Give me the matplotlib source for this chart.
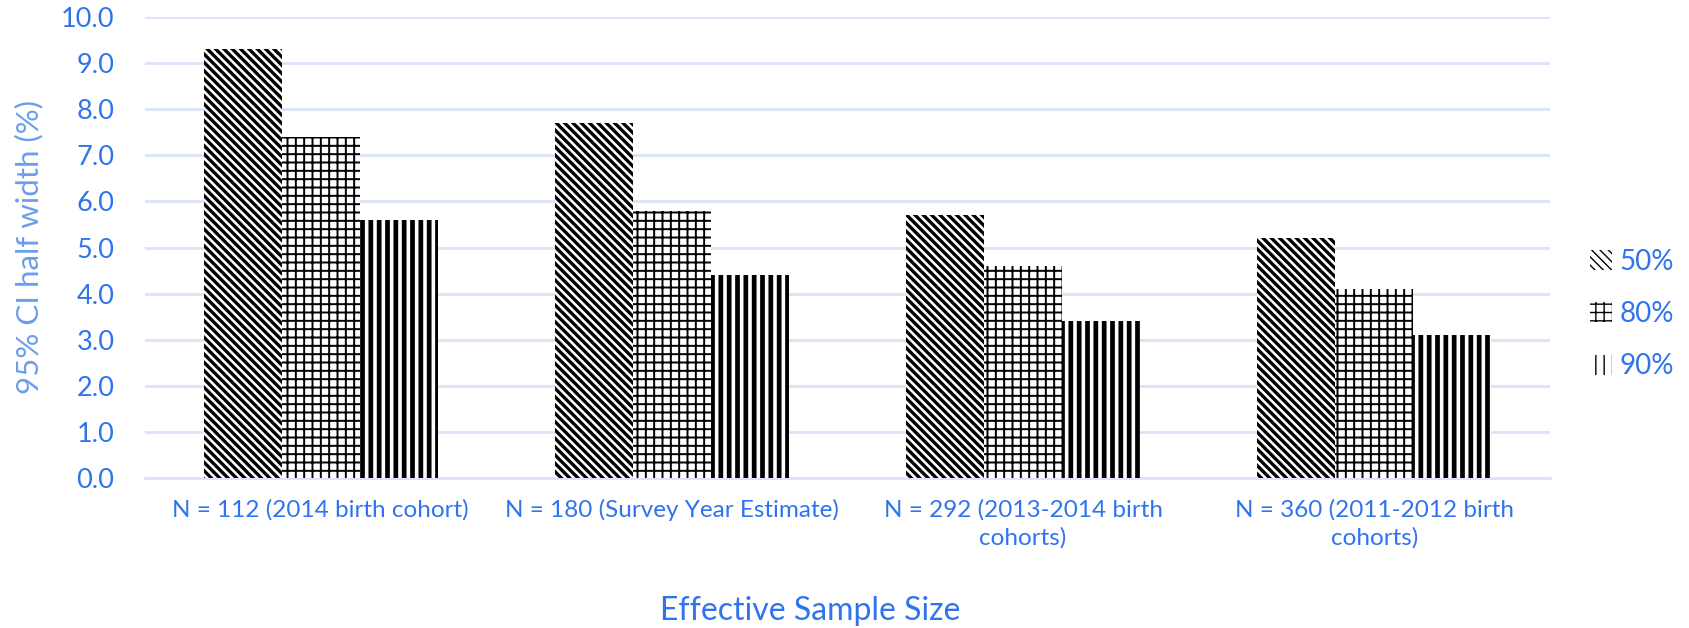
import matplotlib
matplotlib.use("Agg")
import matplotlib.pyplot as plt
import matplotlib.patches as mpatches
import numpy as np

# Data
categories = [
    "N = 112 (2014 birth cohort)",
    "N = 180 (Survey Year Estimate)",
    "N = 292 (2013-2014 birth\ncohorts)",
    "N = 360 (2011-2012 birth\ncohorts)",
]
series_names = ["50%", "80%", "90%"]
values_50 = [9.3, 7.7, 5.7, 5.2]
values_80 = [7.4, 5.8, 4.6, 4.1]
values_90 = [5.6, 4.4, 3.4, 3.1]
yticks = [0.0, 1.0, 2.0, 3.0, 4.0, 5.0, 6.0, 7.0, 8.0, 9.0, 10.0]

BLUE = "#2F74EE"
LIGHT_BLUE = "#6C9DEA"
GRID = "#D9E4F9"
FONT = ["Lato", "DejaVu Sans"]

plt.rcParams["font.family"] = FONT

fig = plt.figure(figsize=(16.9, 6.28), dpi=100)
ax = fig.add_axes([145 / 1690, 1 - 478 / 628, (1550 - 145) / 1690, (478 - 17) / 628])

series = [values_50, values_80, values_90]
hatches = ["\\\\\\\\", "++", "||"]
hatch_lw = [2.4, 1.4, 3.4]

x = np.arange(len(categories))
width = 0.222
handles = []
for i, (vals, h, lw, name) in enumerate(zip(series, hatches, hatch_lw, series_names)):
    with plt.rc_context({"hatch.linewidth": lw, "hatch.color": "black"}):
        bars = ax.bar(x + (i - 1) * width, vals, width, facecolor="white",
                      edgecolor="black", linewidth=0, hatch=h, zorder=3)
        for b in bars:
            if hasattr(b, "set_hatch_linewidth"):
                b.set_hatch_linewidth(lw)
        patch = mpatches.Patch(facecolor="white", edgecolor="black", linewidth=0,
                               hatch=h, label=name)
        if hasattr(patch, "set_hatch_linewidth"):
            patch.set_hatch_linewidth(lw)
    handles.append(patch)

ax.set_xlim(-0.5, len(categories) - 0.5)
ax.set_ylim(0, 10)
ax.set_yticks(yticks)
ax.set_yticklabels([f"{t:.1f}" for t in yticks])
ax.set_xticks(x)
ax.set_xticklabels(categories, linespacing=1.4)

ax.yaxis.grid(True, color=GRID, linewidth=2.0, zorder=0)
ax.set_axisbelow(True)
for s in ["top", "right", "left"]:
    ax.spines[s].set_visible(False)
ax.spines["bottom"].set_color(GRID)
ax.spines["bottom"].set_linewidth(2.0)

ax.tick_params(axis="y", length=0, pad=22, labelsize=19.5, labelcolor=BLUE)
ax.tick_params(axis="x", length=0, pad=15, labelsize=17.5, labelcolor=BLUE)

ax.set_ylabel("95% CI half width (%)", fontsize=22.5, color=LIGHT_BLUE)
ax.yaxis.set_label_coords(-102 / 1405, 0.5)

fig.text(810 / 1690, 1 - 611 / 628, "Effective Sample Size", fontsize=23,
         color=BLUE, ha="center", va="center")

leg = fig.legend(handles=handles, loc="center left",
                 bbox_to_anchor=(1590 / 1690, 1 - 314 / 628), frameon=False,
                 fontsize=20, handlelength=0.8, handleheight=0.75,
                 handletextpad=0.25, labelspacing=0.95, borderpad=0, borderaxespad=0)
for t in leg.get_texts():
    t.set_color(BLUE)

fig.savefig("out.png", dpi=100, facecolor="white")
